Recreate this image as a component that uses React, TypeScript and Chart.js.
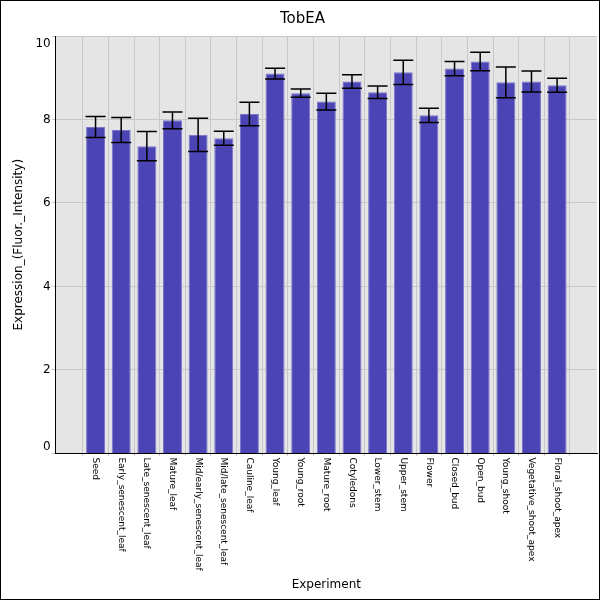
import React, { useEffect, useRef } from "react";
import { Chart, registerables } from "chart.js";
Chart.register(...registerables);

const categories = ["Seed","Early_senescent_leaf","Late_senescent_leaf","Mature_leaf","Mid/early_senescent_leaf","Mid/late_senescent_leaf","Cauline_leaf","Young_leaf","Young_root","Mature_root","Cotyledons","Lower_stem","Upper_stem","Flower","Closed_bud","Open_bud","Young_shoot","Vegetative_shoot_apex","Floral_shoot_apex"];
const values = [7.82,7.75,7.36,7.98,7.63,7.55,8.13,9.10,8.63,8.43,8.91,8.65,9.13,8.10,9.22,9.39,8.89,8.91,8.82];
const errors = [0.25,0.3,0.35,0.2,0.4,0.17,0.28,0.13,0.1,0.2,0.16,0.15,0.29,0.17,0.17,0.22,0.37,0.25,0.17];
const yTicks = [0,2,4,6,8,10];

const FONT = "'DejaVu Sans', sans-serif";

const plugin = {
  id: "custom",
  beforeDraw(c: any) {
    const { ctx, chartArea: a } = c;
    ctx.save();
    ctx.fillStyle = "#fff";
    ctx.fillRect(0, 0, c.width, c.height);
    ctx.fillStyle = "#e5e5e5";
    ctx.fillRect(a.left, a.top, a.right - a.left, a.bottom - a.top);
    ctx.restore();
  },
  afterDatasetsDraw(c: any) {
    const { ctx } = c;
    const meta = c.getDatasetMeta(0);
    const y = c.scales.y;
    ctx.save();
    ctx.strokeStyle = "#000";
    ctx.lineWidth = 1.5;
    meta.data.forEach((bar: any, i: number) => {
      const x = bar.x;
      const t = y.getPixelForValue(values[i] + errors[i]);
      const b = y.getPixelForValue(values[i] - errors[i]);
      ctx.beginPath();
      ctx.moveTo(x, t); ctx.lineTo(x, b);
      ctx.moveTo(x - 10, t); ctx.lineTo(x + 10, t);
      ctx.moveTo(x - 10, b); ctx.lineTo(x + 10, b);
      ctx.stroke();
    });
    ctx.restore();
  },
  afterDraw(c: any) {
    const { ctx, chartArea: a } = c;
    const xs = c.scales.x;
    const ys = c.scales.y;
    ctx.save();
    ctx.fillStyle = "#000";
    ctx.font = "9px " + FONT;
    ctx.textAlign = "left";
    ctx.textBaseline = "middle";
    categories.forEach((lab, i) => {
      const x = xs.getPixelForValue(i);
      ctx.save();
      ctx.translate(x, a.bottom + 4);
      ctx.rotate(Math.PI / 2);
      ctx.fillText(lab, 0, 0);
      ctx.restore();
    });
    ctx.font = "12px " + FONT;
    ctx.textAlign = "right";
    yTicks.forEach((v) => {
      let y = ys.getPixelForValue(v);
      y = Math.max(a.top + 8, Math.min(a.bottom - 7, y));
      ctx.fillText(String(v), a.left - 5, y);
    });
    ctx.strokeStyle = "#000";
    ctx.lineWidth = 1;
    ctx.strokeRect(0.5, 0.5, c.width - 1, c.height - 1);
    ctx.restore();
  },
};

export default function App() {
  const ref = useRef<HTMLCanvasElement>(null);
  useEffect(() => {
    document.body.style.margin = "0";
    const chart = new Chart(ref.current!, {
      type: "bar",
      data: {
        datasets: [{
          data: values.map((v, i) => ({ x: i, y: v })),
          backgroundColor: "#4b44b4",
          borderColor: "#7a75c9",
          borderWidth: 1,
          categoryPercentage: 1,
          barPercentage: 0.74,
        }],
      },
      options: {
        animation: false,
        responsive: false,
        layout: { padding: { right: 3, top: 0, bottom: 4, left: 8 } },
        plugins: {
          legend: { display: false },
          tooltip: { enabled: false },
          title: { display: true, text: "TobEA", color: "#000", font: { family: FONT, size: 15, weight: "normal" }, padding: { top: 10, bottom: 8 } },
        },
        scales: {
          x: {
            type: "linear",
            min: -1, max: 19,
            afterBuildTicks: (s: any) => { s.ticks = categories.map((_, i) => ({ value: i })); },
            grid: { color: "#c8c8c8", tickLength: 3 },
            border: { display: true, color: "#000" },
            ticks: { color: "rgba(0,0,0,0)", font: { family: FONT, size: 9 }, minRotation: 90, maxRotation: 90, autoSkip: false, padding: 2, callback: (v: any) => categories[v] ?? "" },
            title: { display: true, text: "Experiment", color: "#000", font: { family: FONT, size: 12 }, padding: { top: 4, bottom: 4 } },
          },
          y: {
            min: 0, max: 10,
            afterBuildTicks: (s: any) => { s.ticks = yTicks.map((v) => ({ value: v })); },
            grid: { color: "#c8c8c8", tickLength: 4 },
            border: { display: true, color: "#000" },
            ticks: { color: "rgba(0,0,0,0)", font: { family: FONT, size: 12 } },
            title: { display: true, text: "Expression_(Fluor._Intensity)", color: "#000", font: { family: FONT, size: 12 } },
          },
        },
      },
      plugins: [plugin],
    } as any);
    return () => chart.destroy();
  }, []);
  return <canvas ref={ref} width={600} height={600} style={{ display: "block" }} />;
}
